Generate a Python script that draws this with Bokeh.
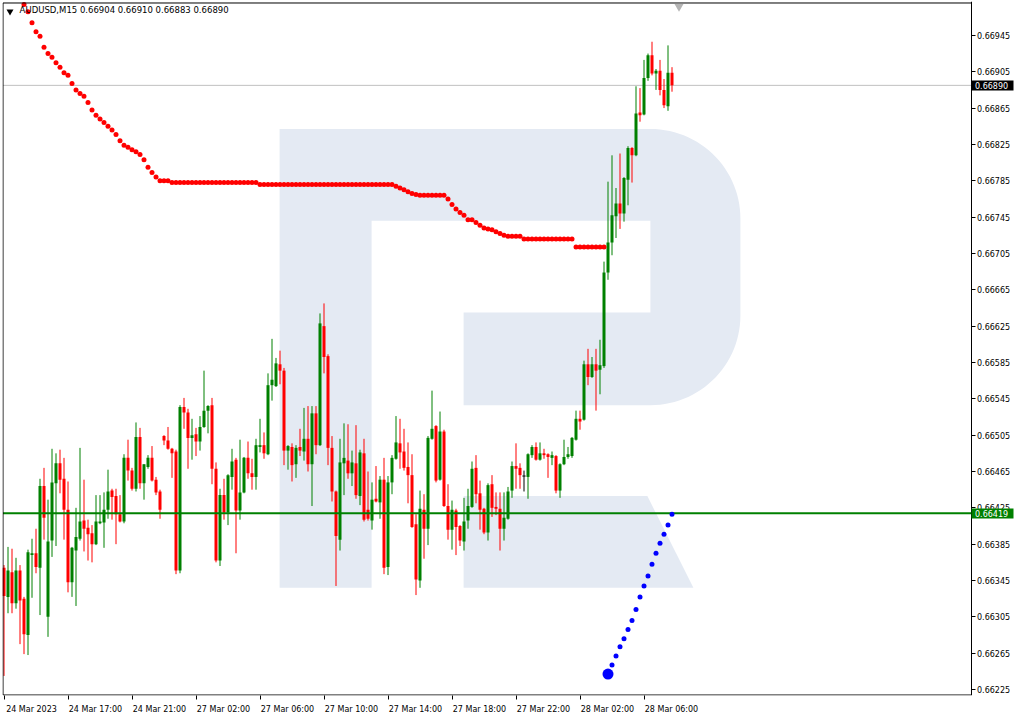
from bokeh.plotting import figure
from bokeh.models import (FixedTicker, LinearAxis, Range1d, Label, PrintfTickFormatter)
from bokeh.embed import file_html
from bokeh.resources import INLINE
import numpy as np

# ---------------- data (AUDUSD, M15) ----------------
opens = [0.66359, 0.66327, 0.66354, 0.66320, 0.66356, 0.66325, 0.66285, 0.66373, 0.66375, 0.66359,
         0.66449, 0.66305, 0.66389, 0.66452, 0.66474, 0.66457, 0.66423, 0.66343, 0.66378, 0.66391,
         0.66411, 0.66403, 0.66397, 0.66385, 0.66408, 0.66409, 0.66423, 0.66444, 0.66438, 0.66418,
         0.66410, 0.66480, 0.66466, 0.66446, 0.66503, 0.66452, 0.66470, 0.66480, 0.66456, 0.66443,
         0.66504, 0.66499, 0.66490, 0.66487, 0.66356, 0.66536, 0.66530, 0.66502, 0.66506, 0.66498,
         0.66514, 0.66532, 0.66538, 0.66468, 0.66367, 0.66439, 0.66420, 0.66459, 0.66478, 0.66422,
         0.66442, 0.66480, 0.66463, 0.66459, 0.66492, 0.66494, 0.66484, 0.66560, 0.66559, 0.66583,
         0.66576, 0.66488, 0.66492, 0.66473, 0.66492, 0.66487, 0.66501, 0.66473, 0.66529, 0.66494,
         0.66625, 0.66592, 0.66491, 0.66443, 0.66390, 0.66474, 0.66477, 0.66463, 0.66474, 0.66438,
         0.66485, 0.66423, 0.66411, 0.66435, 0.66431, 0.66456, 0.66360, 0.66453, 0.66479, 0.66496,
         0.66487, 0.66470, 0.66461, 0.66407, 0.66345, 0.66423, 0.66402, 0.66501, 0.66515, 0.66456,
         0.66509, 0.66427, 0.66401, 0.66422, 0.66405, 0.66388, 0.66411, 0.66426, 0.66469, 0.66441,
         0.66424, 0.66398, 0.66451, 0.66426, 0.66424, 0.66402, 0.66413, 0.66444, 0.66471, 0.66469,
         0.66460, 0.66459, 0.66483, 0.66492, 0.66478, 0.66485, 0.66484, 0.66480, 0.66482, 0.66444,
         0.66473, 0.66481, 0.66482, 0.66500, 0.66523, 0.66522, 0.66583, 0.66569, 0.66583, 0.66577,
         0.66581, 0.66684, 0.66717, 0.66746, 0.66760, 0.66749, 0.66786, 0.66821, 0.66813, 0.66860,
         0.66858, 0.66898, 0.66923, 0.66903, 0.66906, 0.66885, 0.66867, 0.66904]
highs = [0.66362, 0.66382, 0.66380, 0.66370, 0.66362, 0.66327, 0.66379, 0.66391, 0.66402, 0.66457,
         0.66469, 0.66434, 0.66490, 0.66485, 0.66489, 0.66480, 0.66454, 0.66382, 0.66425, 0.66491,
         0.66456, 0.66412, 0.66406, 0.66439, 0.66439, 0.66442, 0.66467, 0.66446, 0.66446, 0.66439,
         0.66484, 0.66500, 0.66469, 0.66519, 0.66513, 0.66473, 0.66483, 0.66493, 0.66459, 0.66445,
         0.66505, 0.66514, 0.66491, 0.66489, 0.66538, 0.66546, 0.66534, 0.66523, 0.66513, 0.66526,
         0.66576, 0.66538, 0.66546, 0.66475, 0.66446, 0.66457, 0.66462, 0.66490, 0.66480, 0.66500,
         0.66481, 0.66498, 0.66479, 0.66501, 0.66523, 0.66508, 0.66573, 0.66611, 0.66590, 0.66598,
         0.66579, 0.66494, 0.66496, 0.66494, 0.66512, 0.66535, 0.66537, 0.66537, 0.66537, 0.66639,
         0.66650, 0.66594, 0.66504, 0.66444, 0.66501, 0.66518, 0.66517, 0.66488, 0.66516, 0.66489,
         0.66501, 0.66465, 0.66453, 0.66471, 0.66460, 0.66480, 0.66460, 0.66483, 0.66526, 0.66523,
         0.66512, 0.66497, 0.66484, 0.66418, 0.66444, 0.66440, 0.66504, 0.66554, 0.66516, 0.66531,
         0.66511, 0.66451, 0.66433, 0.66424, 0.66406, 0.66436, 0.66446, 0.66476, 0.66483, 0.66455,
         0.66425, 0.66452, 0.66461, 0.66442, 0.66442, 0.66442, 0.66448, 0.66476, 0.66496, 0.66474,
         0.66466, 0.66485, 0.66494, 0.66497, 0.66497, 0.66490, 0.66485, 0.66487, 0.66483, 0.66474,
         0.66500, 0.66492, 0.66503, 0.66532, 0.66532, 0.66587, 0.66600, 0.66591, 0.66600, 0.66610,
         0.66696, 0.66784, 0.66813, 0.66777, 0.66815, 0.66789, 0.66823, 0.66822, 0.66889, 0.66887,
         0.66918, 0.66925, 0.66938, 0.66908, 0.66918, 0.66897, 0.66934, 0.66910]
lows = [0.66240, 0.66309, 0.66309, 0.66314, 0.66275, 0.66264, 0.66263, 0.66326, 0.66353, 0.66307,
        0.66390, 0.66283, 0.66371, 0.66383, 0.66441, 0.66390, 0.66332, 0.66327, 0.66317, 0.66389,
        0.66377, 0.66367, 0.66365, 0.66384, 0.66407, 0.66381, 0.66413, 0.66412, 0.66385, 0.66409,
        0.66408, 0.66455, 0.66444, 0.66443, 0.66446, 0.66434, 0.66468, 0.66454, 0.66439, 0.66413,
        0.66494, 0.66489, 0.66458, 0.66352, 0.66353, 0.66512, 0.66468, 0.66478, 0.66482, 0.66488,
        0.66513, 0.66507, 0.66451, 0.66365, 0.66361, 0.66412, 0.66406, 0.66445, 0.66375, 0.66412,
        0.66441, 0.66457, 0.66445, 0.66445, 0.66486, 0.66479, 0.66483, 0.66543, 0.66558, 0.66561,
        0.66472, 0.66467, 0.66454, 0.66458, 0.66482, 0.66477, 0.66465, 0.66427, 0.66484, 0.66493,
        0.66573, 0.66472, 0.66432, 0.66339, 0.66378, 0.66439, 0.66457, 0.66449, 0.66435, 0.66428,
        0.66410, 0.66411, 0.66401, 0.66431, 0.66413, 0.66352, 0.66351, 0.66440, 0.66478, 0.66468,
        0.66466, 0.66430, 0.66403, 0.66329, 0.66337, 0.66369, 0.66384, 0.66500, 0.66453, 0.66455,
        0.66426, 0.66390, 0.66379, 0.66373, 0.66383, 0.66378, 0.66402, 0.66425, 0.66430, 0.66401,
        0.66396, 0.66389, 0.66415, 0.66417, 0.66378, 0.66389, 0.66412, 0.66436, 0.66446, 0.66446,
        0.66443, 0.66435, 0.66480, 0.66477, 0.66477, 0.66479, 0.66458, 0.66472, 0.66441, 0.66436,
        0.66472, 0.66479, 0.66480, 0.66499, 0.66511, 0.66521, 0.66560, 0.66568, 0.66532, 0.66550,
        0.66579, 0.66676, 0.66703, 0.66722, 0.66732, 0.66740, 0.66758, 0.66783, 0.66812, 0.66850,
        0.66857, 0.66895, 0.66901, 0.66885, 0.66879, 0.66865, 0.66862, 0.66883]
closes = [0.66328, 0.66356, 0.66320, 0.66356, 0.66323, 0.66286, 0.66376, 0.66375, 0.66360, 0.66449,
          0.66414, 0.66388, 0.66453, 0.66474, 0.66456, 0.66423, 0.66343, 0.66381, 0.66393, 0.66410,
          0.66402, 0.66396, 0.66385, 0.66410, 0.66410, 0.66423, 0.66443, 0.66437, 0.66418, 0.66410,
          0.66480, 0.66466, 0.66446, 0.66503, 0.66452, 0.66473, 0.66480, 0.66455, 0.66442, 0.66423,
          0.66499, 0.66490, 0.66485, 0.66356, 0.66536, 0.66530, 0.66502, 0.66505, 0.66498, 0.66514,
          0.66532, 0.66537, 0.66468, 0.66367, 0.66439, 0.66420, 0.66461, 0.66476, 0.66422, 0.66442,
          0.66480, 0.66463, 0.66459, 0.66494, 0.66494, 0.66485, 0.66560, 0.66566, 0.66584, 0.66576,
          0.66488, 0.66493, 0.66472, 0.66491, 0.66488, 0.66501, 0.66473, 0.66529, 0.66494, 0.66628,
          0.66591, 0.66491, 0.66443, 0.66394, 0.66475, 0.66480, 0.66463, 0.66475, 0.66439, 0.66486,
          0.66412, 0.66413, 0.66434, 0.66432, 0.66456, 0.66359, 0.66453, 0.66480, 0.66497, 0.66486,
          0.66469, 0.66461, 0.66404, 0.66346, 0.66424, 0.66402, 0.66502, 0.66512, 0.66455, 0.66509,
          0.66427, 0.66401, 0.66423, 0.66404, 0.66389, 0.66410, 0.66427, 0.66468, 0.66440, 0.66423,
          0.66398, 0.66450, 0.66425, 0.66424, 0.66402, 0.66414, 0.66443, 0.66471, 0.66468, 0.66461,
          0.66460, 0.66484, 0.66492, 0.66478, 0.66485, 0.66483, 0.66481, 0.66483, 0.66444, 0.66473,
          0.66481, 0.66484, 0.66502, 0.66523, 0.66520, 0.66583, 0.66569, 0.66583, 0.66576, 0.66582,
          0.66684, 0.66717, 0.66747, 0.66760, 0.66749, 0.66788, 0.66821, 0.66813, 0.66859, 0.66857,
          0.66898, 0.66923, 0.66903, 0.66906, 0.66885, 0.66868, 0.66904, 0.66890]

# red dotted indicator (bars 5..150) and blue dotted indicator (bars 151..167)
sar_red_start = 5
sar_red = [0.66979, 0.66971, 0.66959, 0.66949, 0.66944, 0.66932, 0.66925, 0.66921, 0.66915, 0.66910,
           0.66904, 0.66901, 0.66892, 0.66885, 0.66881, 0.66878, 0.66871, 0.66863, 0.66857, 0.66853,
           0.66849, 0.66845, 0.66841, 0.66836, 0.66829, 0.66824, 0.66822, 0.66819, 0.66817, 0.66814,
           0.66808, 0.66800, 0.66794, 0.66789, 0.66785, 0.66785, 0.66785,
           0.66783, 0.66783, 0.66783, 0.66783, 0.66783, 0.66783, 0.66783, 0.66783, 0.66783, 0.66783,
           0.66783, 0.66783, 0.66783, 0.66783, 0.66783, 0.66783, 0.66783, 0.66783, 0.66783, 0.66783,
           0.66783, 0.66783,
           0.66781, 0.66781, 0.66781, 0.66781, 0.66781, 0.66781, 0.66781, 0.66781, 0.66781, 0.66781,
           0.66781, 0.66781, 0.66781, 0.66781, 0.66781, 0.66781, 0.66781, 0.66781, 0.66781, 0.66781,
           0.66781, 0.66781, 0.66781, 0.66781, 0.66781, 0.66781, 0.66781, 0.66781, 0.66781, 0.66781,
           0.66781, 0.66781, 0.66781, 0.66781,
           0.66779, 0.66777, 0.66775, 0.66773, 0.66771, 0.66770,
           0.66769, 0.66769, 0.66769, 0.66769, 0.66769, 0.66769, 0.66769,
           0.66765, 0.66759, 0.66754, 0.66750, 0.66747, 0.66742, 0.66742, 0.66739, 0.66736, 0.66733,
           0.66732, 0.66731, 0.66729, 0.66727, 0.66725,
           0.66724, 0.66724, 0.66724, 0.66724,
           0.66721, 0.66721, 0.66721, 0.66721, 0.66721, 0.66721, 0.66721, 0.66721, 0.66721, 0.66721,
           0.66721, 0.66721, 0.66721,
           0.66712, 0.66712, 0.66712, 0.66712, 0.66712, 0.66712, 0.66712, 0.66712]
sar_blue_start = 151
sar_blue = [0.66242, 0.66252, 0.66262, 0.66272, 0.66281, 0.66291, 0.66301, 0.66313, 0.66327,
            0.66339, 0.66350, 0.66363, 0.66375, 0.66386, 0.66396, 0.66406, 0.66418]

level_line = 0.66419
last_price = 0.66890
title_text = "AUDUSD,M15  0.66904 0.66910 0.66883 0.66890"

x_tick_bars = [0, 16, 32, 48, 64, 80, 96, 112, 128, 144, 160]
x_tick_labels = ["24 Mar 2023", "24 Mar 17:00", "24 Mar 21:00", "27 Mar 02:00", "27 Mar 06:00",
                 "27 Mar 10:00", "27 Mar 14:00", "27 Mar 18:00", "27 Mar 22:00", "28 Mar 02:00",
                 "28 Mar 06:00"]
y_ticks = [0.66225, 0.66265, 0.66305, 0.66345, 0.66385, 0.66425, 0.66465, 0.66505, 0.66545,
           0.66585, 0.66625, 0.66665, 0.66705, 0.66745, 0.66785, 0.66825, 0.66865, 0.66905, 0.66945]

# ---------------- styling / layout ----------------
GREEN = "#008000"
RED = "#FF0000"
LOGO = "#E4EAF3"
FONT = "DejaVu Sans"
FS = "8px"

n = len(opens)
bars = list(range(n))
colors = []
for o, c in zip(opens, closes):
    colors.append(GREEN if c > o else (RED if c < o else "black"))
tops = [max(o, c) for o, c in zip(opens, closes)]
bots = [min(o, c) for o, c in zip(opens, closes)]

W, H = 1015, 716
BL, BT, BR, BB = 2, 1, 0, 18
PX_PER_BAR = 4.0
PX_PER_PRICE = 91250.0
bpp = 1.0 / PX_PER_BAR
ppp = 1.0 / PX_PER_PRICE
frame_w = W - BL - BR
frame_h = H - BT - BB
X0 = -1.5 * bpp            # bar 0 sits 1.5 px right of the frame's left edge
X1 = X0 + frame_w * bpp
Y1 = 0.669812 + 1 * ppp
Y0 = Y1 - frame_h * ppp

# chart-area border (the price scale lives to the right of it)
BX_L = X0 + 0.5 * bpp
BX_R = X0 + 968.5 * bpp
BY_T = Y1 - 1.5 * ppp
BY_B = Y1 - 696.5 * ppp

p = figure(width=W, height=H, x_range=Range1d(X0, X1), y_range=Range1d(Y0, Y1),
           output_backend="svg", toolbar_location=None,
           x_axis_location=None, y_axis_location=None,
           min_border_left=BL, min_border_right=BR, min_border_top=BT, min_border_bottom=BB)
p.xgrid.visible = False
p.ygrid.visible = False
p.outline_line_color = None
p.background_fill_color = "white"
p.border_fill_color = "white"

# ---- watermark logo (in bar / price units) ----
lx_stem0, lx_stem1, lx_in, lx_arc = 68.9, 91.9, 114.9, 161.6
ly_top, ly_a, ly_b, ly_bot = 0.66842, 0.66741, 0.66640, 0.66538
ly_leg_top, ly_leg_bot = 0.66438, 0.66337
rx, ry = 90 * bpp, 90 * ppp
t1 = np.linspace(np.pi / 2, 0, 30)
t2 = np.linspace(0, -np.pi / 2, 30)
arc1_x = lx_arc + rx * np.cos(t1)
arc1_y = (ly_top - ry) + ry * np.sin(t1)
arc2_x = lx_arc + rx * np.cos(t2)
arc2_y = (ly_bot + ry) + ry * np.sin(t2)
logo_x = ([lx_stem0] + list(arc1_x) + list(arc2_x) +
          [lx_in, lx_in, lx_arc, lx_arc, lx_stem1, lx_stem1, lx_stem0])
logo_y = ([ly_top] + list(arc1_y) + list(arc2_y) +
          [ly_bot, ly_b, ly_b, ly_a, ly_a, ly_leg_bot, ly_leg_bot])
r_logo = p.patch(logo_x, logo_y, fill_color=LOGO, line_color=None)
r_logo.level = "image"
leg_x = [lx_in, lx_arc - 0.75, lx_arc + 10.75, lx_in]
leg_y = [ly_leg_top, ly_leg_top, ly_leg_bot, ly_leg_bot]
r_leg = p.patch(leg_x, leg_y, fill_color=LOGO, line_color=None)
r_leg.level = "image"

# last price line (behind candles)
r_last = p.segment(x0=[BX_L], y0=[last_price], x1=[BX_R], y1=[last_price],
                   line_color="#C0C0C0", line_width=1)
r_last.level = "underlay"

# ---- candles ----
p.segment(x0=bars, y0=lows, x1=bars, y1=highs, line_color=colors, line_width=1)
p.vbar(x=bars, width=0.75, top=tops, bottom=bots, fill_color=colors, line_color=None)
doji = [i for i in bars if opens[i] == closes[i]]
if doji:
    p.segment(x0=[i - 0.4 for i in doji], y0=[opens[i] for i in doji],
              x1=[i + 0.4 for i in doji], y1=[opens[i] for i in doji],
              line_color="black", line_width=1)

# level line
p.segment(x0=[BX_L], y0=[level_line], x1=[BX_R], y1=[level_line],
          line_color=GREEN, line_width=2)

# ---- dotted indicator ----
red_x = list(range(sar_red_start, sar_red_start + len(sar_red)))
p.scatter(red_x, sar_red, size=5, fill_color=RED, line_color=None)
blue_x = list(range(sar_blue_start, sar_blue_start + len(sar_blue)))
p.scatter(blue_x[1:], sar_blue[1:], size=5, fill_color="#0000FF", line_color=None)
p.scatter(blue_x[:1], sar_blue[:1], size=11, fill_color="#0000FF", line_color=None)

# ---- chart border (left, top, bottom) ----
p.segment(x0=[BX_L, BX_L, BX_L], y0=[BY_B, BY_T, BY_B],
          x1=[BX_L, BX_R, BX_R], y1=[BY_T, BY_T, BY_B],
          line_color="black", line_width=1)

# ---- bottom axis: tick marks at the bars, labels starting right of them ----
label_shift = 6.875
label_pos = [b + label_shift for b in x_tick_bars]
xaxis = LinearAxis(ticker=FixedTicker(ticks=label_pos, minor_ticks=x_tick_bars),
                   major_label_overrides={pos: t for pos, t in zip(label_pos, x_tick_labels)},
                   major_tick_out=0, major_tick_in=0, minor_tick_out=4, minor_tick_in=0,
                   axis_line_color=None, minor_tick_line_color="black",
                   major_label_text_font=FONT, major_label_text_font_size=FS,
                   major_label_text_color="black", major_label_standoff=5)
p.add_layout(xaxis, "below")

# ---- right price scale, pinned to the chart border ----
yaxis = LinearAxis(ticker=FixedTicker(ticks=y_ticks), fixed_location=BX_R,
                   formatter=PrintfTickFormatter(format="%.5f"),
                   major_tick_out=4, major_tick_in=0, minor_tick_out=0, minor_tick_in=0,
                   axis_line_color="black", major_tick_line_color="black",
                   major_label_text_font=FONT, major_label_text_font_size=FS,
                   major_label_text_color="black", major_label_standoff=2)
p.add_layout(yaxis, "right")

# ---- price boxes on the price scale (one-tick axes drawn as filled tags) ----
for lvl, bg in ((last_price, "black"), (level_line, GREEN)):
    box_axis = LinearAxis(ticker=FixedTicker(ticks=[lvl]), fixed_location=BX_R,
                          formatter=PrintfTickFormatter(format="%.5f"),
                          major_tick_out=42, major_tick_in=0, minor_tick_out=0, minor_tick_in=0,
                          major_tick_line_width=10, major_tick_line_color=bg,
                          major_tick_line_cap="butt",
                          axis_line_color=None,
                          major_label_text_font=FONT, major_label_text_font_size=FS,
                          major_label_text_color="white", major_label_standoff=-38)
    p.add_layout(box_axis, "right")

# ---- title ----
p.scatter([1.5], [Y1 - 10 * ppp], marker="inverted_triangle", size=7,
          fill_color="black", line_color=None)
p.add_layout(Label(x=3.9, y=Y1 - 9 * ppp, text=title_text, text_color="black",
                   text_font=FONT, text_font_size="8.5px", text_align="left",
                   text_baseline="middle"))
# chart shift marker
p.scatter([168.75], [Y1 - 5 * ppp], marker="inverted_triangle", size=9,
          fill_color="#B4B4B4", line_color=None)

open("out.html", "w").write(file_html(p, INLINE))
